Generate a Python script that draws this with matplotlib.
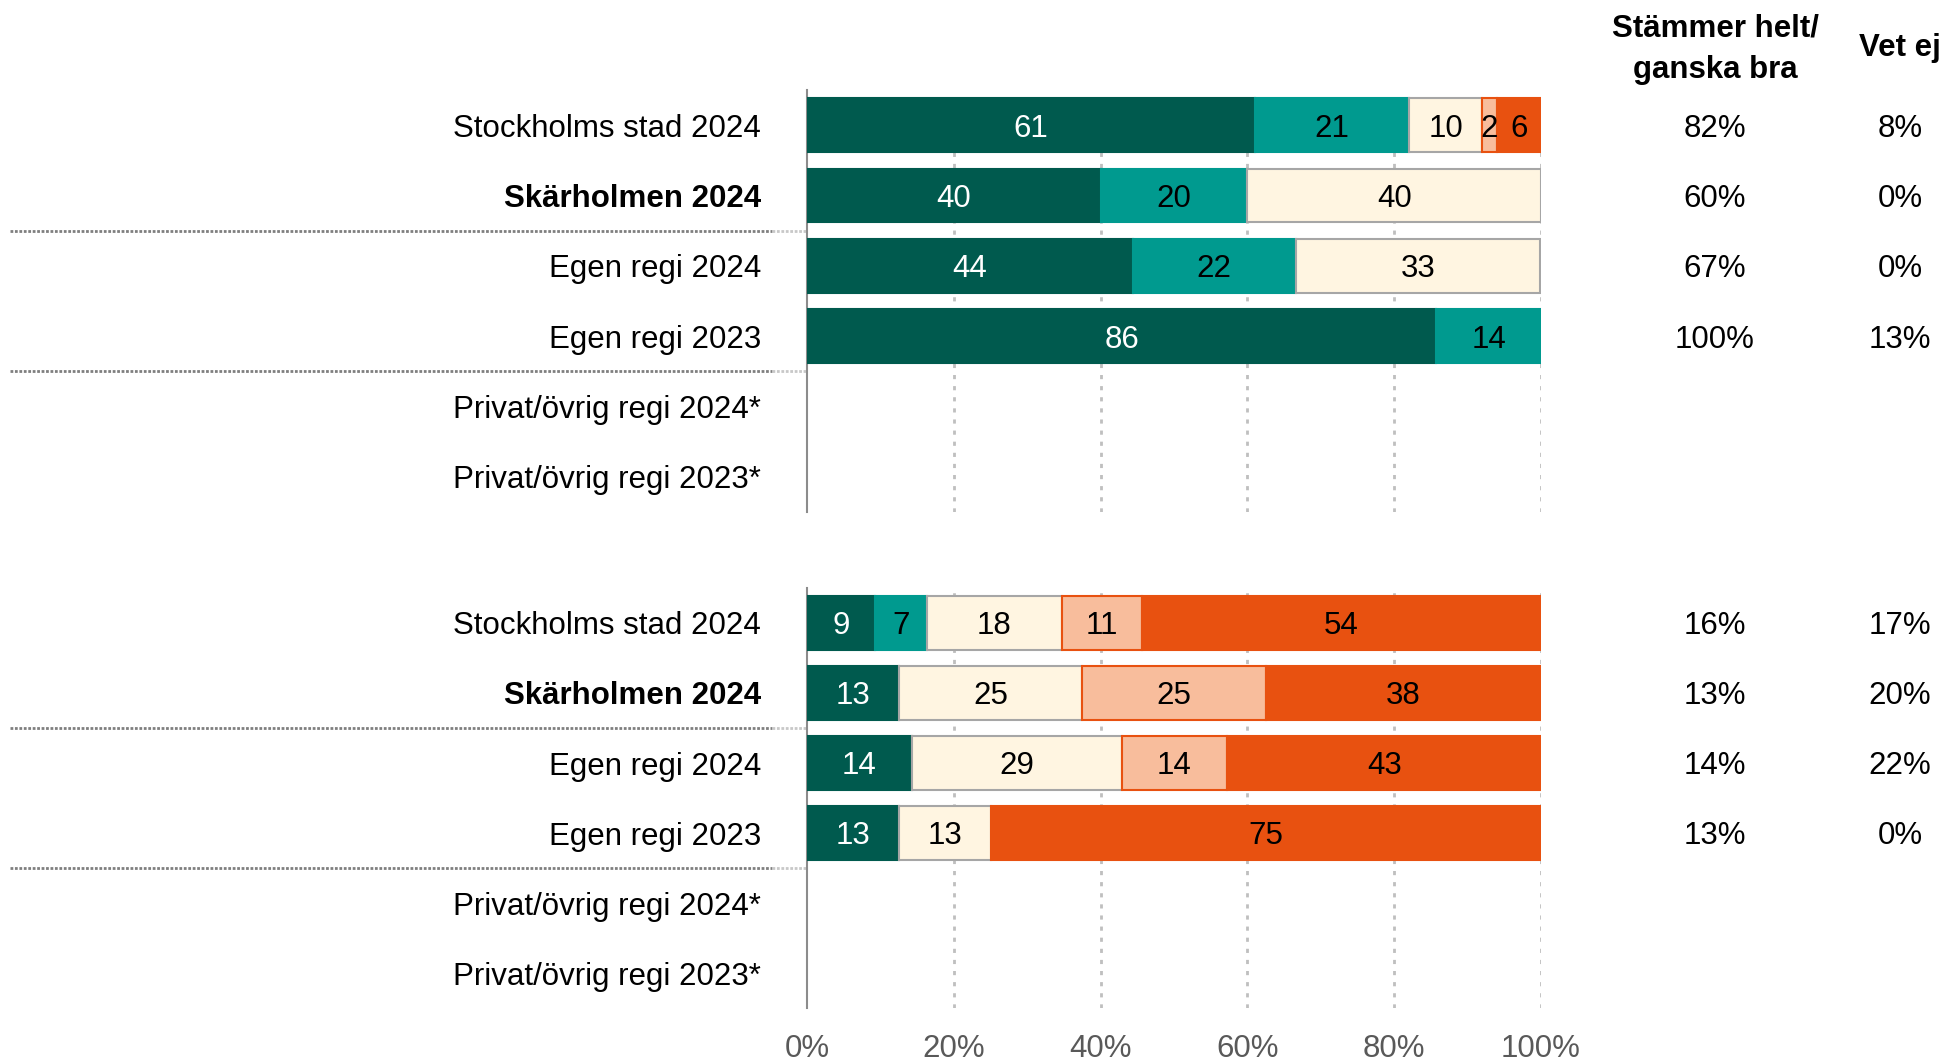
import matplotlib.pyplot as plt
import matplotlib.transforms as mtransforms
import numpy as np

plt.rcParams['font.family'] = ['Liberation Sans', 'DejaVu Sans']

# rows of each block, top to bottom
row_labels = ['Stockholms stad 2024', 'Skärholmen 2024', 'Egen regi 2024',
              'Egen regi 2023', 'Privat/övrig regi 2024*', 'Privat/övrig regi 2023*']
bold_rows = ['Skärholmen 2024']

# segments: helt bra, ganska bra, varken/eller, ganska dåligt, helt dåligt (percent)
top_vals = [
    [61, 21, 10, 2, 6],
    [40, 20, 40, 0, 0],
    [44.4, 22.2, 33.3, 0, 0],
    [85.7, 14.3, 0, 0, 0],
    [0, 0, 0, 0, 0],
    [0, 0, 0, 0, 0],
]
bottom_vals = [
    [9.3, 7.0, 18.4, 10.9, 54.4],
    [12.5, 0, 25, 25, 37.5],
    [14.3, 0, 28.6, 14.3, 42.9],
    [12.5, 0, 12.5, 0, 75],
    [0, 0, 0, 0, 0],
    [0, 0, 0, 0, 0],
]
top_agree = ['82%', '60%', '67%', '100%', '', '']
top_dontknow = ['8%', '0%', '0%', '13%', '', '']
bottom_agree = ['16%', '13%', '14%', '13%', '', '']
bottom_dontknow = ['17%', '20%', '22%', '0%', '', '']

xticks = [0, 20, 40, 60, 80, 100]
xtick_labels = ['0%', '20%', '40%', '60%', '80%', '100%']

seg_colors = ['#005a4e', '#009a8f', '#fff5e1', '#f8bd9c', '#e85110']
seg_edges = ['#005a4e', '#009a8f', '#a6a6a6', '#e85110', '#e85110']
txt_colors = ['white', 'black', 'black', 'black', 'black']

W, H = 1947, 1061
fig = plt.figure(figsize=(W / 100, H / 100), dpi=100)

fs = 22.5
x0, x1 = 807, 1541
ax_top = fig.add_axes([x0 / W, 1 - 512 / H, (x1 - x0) / W, (512 - 90) / H])
ax_bot = fig.add_axes([x0 / W, 1 - 1008 / H, (x1 - x0) / W, (1008 - 588) / H])


def draw_block(ax, vals, agree, dontknow, show_xticks):
    n = len(row_labels)
    y = np.arange(n)
    for i, row in enumerate(vals):
        left = 0
        for j, v in enumerate(row):
            if v > 0:
                ax.barh(y[i], v, left=left, height=0.76, color=seg_colors[j],
                        edgecolor=seg_edges[j], linewidth=1.5, zorder=3)
                ax.text(left + v / 2, y[i], str(int(v + 0.5)), ha='center',
                        va='center_baseline', fontsize=fs, color=txt_colors[j], zorder=4)
            left += v
    ax.set_xlim(0, 100)
    ax.set_ylim(n - 0.5, -0.5)
    ax.set_yticks(y)
    ax.set_yticklabels(row_labels, fontsize=fs, va='center_baseline')
    for lab in ax.get_yticklabels():
        if lab.get_text() in bold_rows:
            lab.set_fontweight('bold')
    ax.tick_params(axis='y', length=0, pad=33)
    ax.set_xticks(xticks)
    if show_xticks:
        ax.set_xticklabels(xtick_labels, fontsize=fs, color='#595959')
    else:
        ax.set_xticklabels([])
    ax.tick_params(axis='x', length=0, pad=19)
    for s in ['top', 'right', 'bottom']:
        ax.spines[s].set_visible(False)
    ax.spines['left'].set_color('#8c8c8c')
    ax.spines['left'].set_linewidth(1.5)
    for xv in xticks[1:]:
        ax.axvline(xv, color='#bfbfbf', linestyle=(0, (1.5, 2.5)), linewidth=2, zorder=1)

    tr = mtransforms.blended_transform_factory(fig.transFigure, ax.transData)
    for i in range(n):
        ax.text(1715 / W, y[i], agree[i], transform=tr, ha='center',
                va='center_baseline', fontsize=fs)
        ax.text(1900 / W, y[i], dontknow[i], transform=tr, ha='center',
                va='center_baseline', fontsize=fs)
    for yy in [1.5, 3.5]:
        ax.plot([10 / W, 772 / W], [yy, yy], transform=tr, color='#7f7f7f',
                linestyle=(0, (1, 0.6)), linewidth=2, clip_on=False)
        ax.plot([772 / W, x0 / W], [yy, yy], transform=tr, color='#c8c8c8',
                linestyle=(0, (1, 0.6)), linewidth=2, clip_on=False)


draw_block(ax_top, top_vals, top_agree, top_dontknow, False)
draw_block(ax_bot, bottom_vals, bottom_agree, bottom_dontknow, True)

fig.text(1715 / W, 1 - 49 / H, 'Stämmer helt/\nganska bra', ha='center', va='center',
         fontsize=fs, fontweight='bold', linespacing=1.5)
fig.text(1900 / W, 1 - 48 / H, 'Vet ej', ha='center', va='center',
         fontsize=fs, fontweight='bold')

fig.savefig('out.png', dpi=100)
